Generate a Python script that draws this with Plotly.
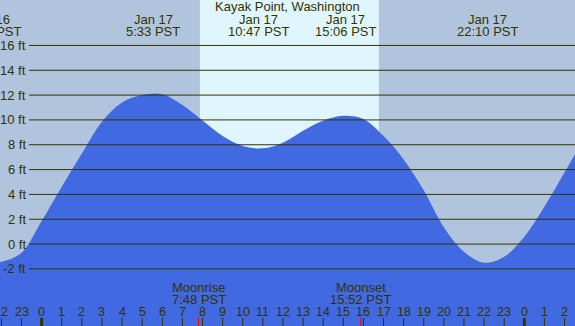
import plotly.graph_objects as go

# ---- data ----
hours = [-3, -2, -1, 0, 1, 2, 3, 4, 5, 6, 7, 8, 9, 10, 11, 12, 13, 14, 15, 16,
         17, 18, 19, 20, 21, 22, 23, 24, 25, 26, 27]
heights_ft = [-1.4, -1.42, -0.7, 1.85, 4.62, 7.3, 9.86, 11.4, 12.0, 12.07, 11.2, 9.95,
              8.7, 7.9, 7.72, 8.17, 9.13, 9.94, 10.33, 10.08, 8.7, 6.82, 4.33, 1.35,
              -0.62, -1.5, -1.02, 0.59, 3.0, 5.78, 8.6]

tide_times = [-2.53, 5.55, 10.78, 15.1, 22.17]
tide_dates = ["Jan 16", "Jan 17", "Jan 17", "Jan 17", "Jan 17"]
tide_labels = ["21:28 PST", "5:33 PST", "10:47 PST", "15:06 PST", "22:10 PST"]

sunrise, sunset = 7.87, 16.77
moon_times = [7.8, 15.867]
moon_names = ["Moonrise", "Moonset"]
moon_labels = ["7:48 PST", "15:52 PST"]

tick_hours = list(range(-2, 27))
tick_labels = [str(h % 24) for h in tick_hours]

grid_ft = [-2, 0, 2, 4, 6, 8, 10, 12, 14, 16]

# ---- figure ----
W, H = 575, 326
X_RANGE = [-2.07, 26.52]
Y_RANGE = [-6.6, 19.66]
TXT = "#333300"
FONT = "Liberation Sans, Arial, sans-serif"


def xp(t):
    """x-axis value -> paper fraction (same linear scale as the axis)."""
    return (t - X_RANGE[0]) / (X_RANGE[1] - X_RANGE[0])


def py(p):
    return 1 - p / H


fig = go.Figure()
fig.add_trace(go.Scatter(x=hours, y=[-10] * len(hours), mode="lines",
                         line=dict(width=0), hoverinfo="skip", showlegend=False))
fig.add_trace(go.Scatter(x=hours, y=heights_ft, mode="lines", fill="tonexty",
                         fillcolor="#4169e1",
                         line=dict(width=0, color="#4169e1", shape="spline", smoothing=1.0),
                         hoverinfo="skip", showlegend=False))

shapes = []
shapes.append(dict(type="rect", xref="x", yref="paper", x0=sunrise, x1=sunset, y0=0, y1=1,
                   fillcolor="#dff6fe", line=dict(width=0), layer="below"))
for g in grid_ft:
    shapes.append(dict(type="line", xref="paper", yref="y", x0=29 / W, x1=1, y0=g, y1=g,
                       line=dict(color=TXT, width=1), layer="above"))
for h in tick_hours:
    wid = 3 if h % 24 == 0 else 1
    shapes.append(dict(type="line", xref="x", yref="paper", x0=h, x1=h, y0=0, y1=8 / H,
                       line=dict(color=TXT, width=wid), layer="above"))
for m in moon_times:
    shapes.append(dict(type="line", xref="x", yref="paper", x0=m, x1=m, y0=0, y1=8 / H,
                       line=dict(color="#ff0000", width=1), layer="above"))

ann = []
f13 = dict(size=13, color=TXT, family=FONT)
f12 = dict(size=12.5, color=TXT, family=FONT)
ann.append(dict(text="Kayak Point, Washington", x=287 / W, xref="paper", y=py(7), yref="paper",
                showarrow=False, xanchor="center", yanchor="middle", font=f13))
for t, d, l in zip(tide_times, tide_dates, tide_labels):
    ann.append(dict(text=d, x=xp(t), xref="paper", y=py(19.5), yref="paper", showarrow=False,
                    xanchor="center", yanchor="middle", font=f13))
    ann.append(dict(text=l, x=xp(t), xref="paper", y=py(32), yref="paper", showarrow=False,
                    xanchor="center", yanchor="middle", font=f13))
for g in grid_ft:
    ann.append(dict(text=f"{g} ft", x=27.5 / W, xref="paper", y=g, yref="y", showarrow=False,
                    xanchor="right", yanchor="middle", font=f13))
for h, lab in zip(tick_hours, tick_labels):
    ann.append(dict(text=lab, x=xp(h), xref="paper", y=py(312), yref="paper", showarrow=False,
                    xanchor="center", yanchor="middle", font=f12))
for m, n, l in zip(moon_times, moon_names, moon_labels):
    ann.append(dict(text=n, x=xp(m), xref="paper", y=py(287), yref="paper", showarrow=False,
                    xanchor="center", yanchor="middle", font=f13))
    ann.append(dict(text=l, x=xp(m), xref="paper", y=py(299), yref="paper", showarrow=False,
                    xanchor="center", yanchor="middle", font=f13))

fig.update_layout(
    width=W, height=H, margin=dict(l=0, r=0, t=0, b=0),
    paper_bgcolor="#b0c4de", plot_bgcolor="#b0c4de",
    xaxis=dict(range=X_RANGE, visible=False, fixedrange=True),
    yaxis=dict(range=Y_RANGE, visible=False, fixedrange=True),
    shapes=shapes, annotations=ann, showlegend=False,
)
fig.write_html("out.html", config={"displayModeBar": False},
               post_script="document.body.style.margin='0px';document.body.style.overflow='hidden';")
